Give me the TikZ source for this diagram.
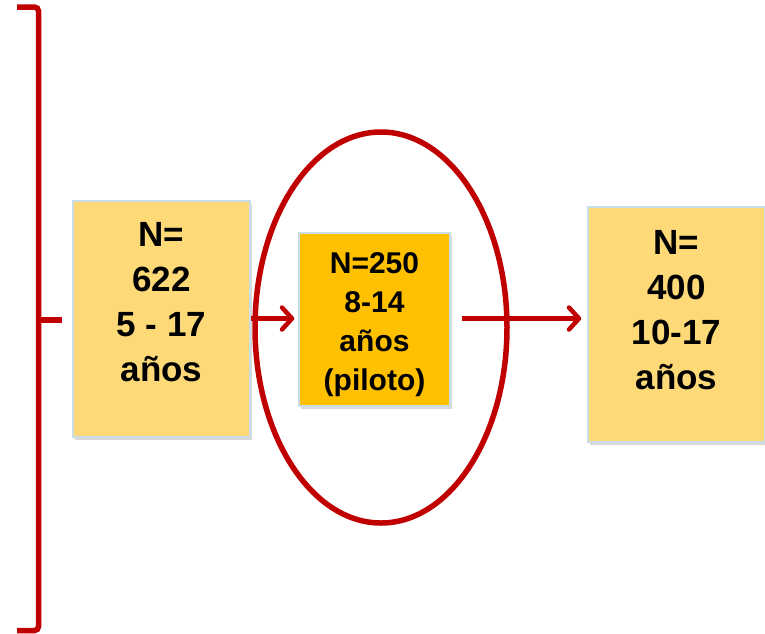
\documentclass[tikz,border=0pt]{standalone}
\usepackage{fontspec}
\setmainfont{Liberation Sans}
\usetikzlibrary{arrows.meta,shapes.geometric}
\definecolor{darkred}{HTML}{C00000}
\definecolor{paleamber}{HTML}{FDD977}
\definecolor{amber}{HTML}{FFC000}
\definecolor{edgeblue}{HTML}{C9DDE6}
\begin{document}
\begin{tikzpicture}[x=1pt,y=-1pt,
  box/.style={rectangle,draw=edgeblue,line width=1.5pt,inner sep=0pt},
  shadowbox/.style={rectangle,fill=black!50,opacity=0.3,inner sep=0pt},
  bigtext/.style={inner sep=0pt,align=center,anchor=north,
    font=\fontsize{35}{45}\selectfont\bfseries},
  smalltext/.style={inner sep=0pt,align=center,anchor=north,
    font=\fontsize{30}{39}\selectfont\bfseries},
  arr/.style={draw=darkred,line width=4.5pt,
    -{Straight Barb[length=10pt,width=22pt,line width=4.5pt,round]}}]
\useasboundingbox (0,0) rectangle (765,633);
\clip (0,0) rectangle (765,633);

% drop shadows under the three boxes
\node[shadowbox,minimum width=177pt,minimum height=236pt] (s1) at (163.5,322) {};
\node[shadowbox,minimum width=151pt,minimum height=173pt] (s2) at (376.5,322.5) {};
\node[shadowbox,minimum width=177pt,minimum height=235pt] (s3) at (678.5,327.5) {};

% boxes
\node[box,fill=paleamber,minimum width=177pt,minimum height=236pt] (b1) at (161.5,319) {};
\node[box,fill=amber,minimum width=151pt,minimum height=173pt] (b2) at (374.5,319.5) {};
\node[box,fill=paleamber,minimum width=177pt,minimum height=235pt] (b3) at (676.5,324.5) {};

% box texts
\node[bigtext] (t1) at (161.5,222) {N=\\622\\5 - 17\\años};
\node[smalltext] (t2) at (374.5,252) {N=250\\8-14\\años\\(piloto)};
\node[bigtext] (t3) at (676.5,230) {N=\\400\\10-17\\años};

% highlight ellipse round the pilot box
\node[ellipse,draw=darkred,line width=5.5pt,minimum width=252pt,minimum height=391pt,inner sep=0pt] (ring) at (381,327.5) {};

% brace gathering the study
\draw[darkred,line width=5.5pt,rounded corners=4pt] (17,7) -- (38.5,7) -- (38.5,630.5) -- (17,630.5);
\draw[darkred,line width=5.5pt] (38.5,320) -- (62,320);

% flow arrows
\coordinate (a1) at (b1.east |- 0,318.5);
\coordinate (a2) at (b2.west |- 0,318.5);
\coordinate (a3) at (b2.east |- 0,318.5);
\coordinate (a4) at (b3.west |- 0,318.5);
\draw[arr,shorten >=4pt] (a1) -- (a2);
\draw[arr,shorten <=11pt,shorten >=6pt] (a3) -- (a4);
\end{tikzpicture}
\end{document}
